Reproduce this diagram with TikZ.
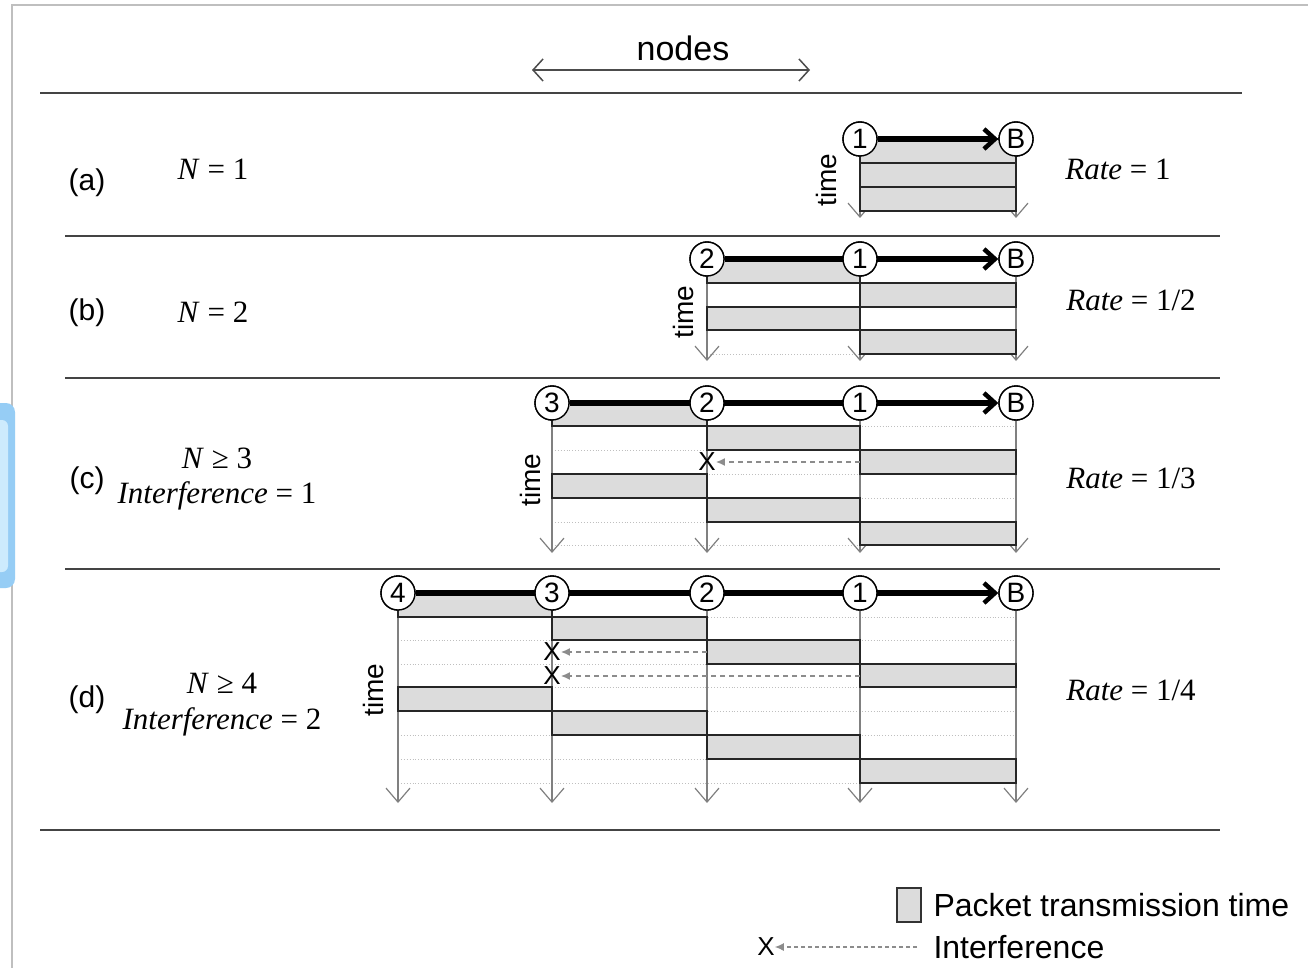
\documentclass[tikz,border=0pt]{standalone}
\usepackage{fontspec}
\setmainfont{Liberation Sans}
\newfontfamily\tms{Liberation Serif}
\usetikzlibrary{arrows.meta}
\definecolor{pktgray}{HTML}{DCDCDC}
\definecolor{sepgray}{HTML}{444444}
\definecolor{tlgray}{HTML}{808080}
\definecolor{tabblue}{RGB}{150,205,245}
\definecolor{tabinner}{RGB}{205,235,253}
\tikzset{
  fs/.style={font=\fontsize{#1}{#1}\selectfont},
  circ/.style={draw=black, line width=1.4pt, fill=white, circle, minimum size=34pt, inner sep=0pt, fs=28},
  pkt/.style={draw=black!85, line width=1.5pt, fill=pktgray},
  tl/.style={draw=tlgray, line width=1.2pt, -{Straight Barb[length=14pt,width=24pt,line width=1.2pt]}},
  big/.style={draw=black, line width=5.5pt, -{Straight Barb[length=11pt,width=20pt,line width=4.5pt]}},
  sep/.style={draw=sepgray, line width=2pt},
  dotl/.style={draw=black!25, line width=0.9pt, dotted},
  intf/.style={draw=black!45, line width=1.5pt, dash pattern=on 5pt off 4pt, -{Latex[length=9pt,width=8pt]}},
  xmark/.style={fs=26, inner sep=0pt},
  lbl/.style={fs=30},
  mth/.style={font=\tms\fontsize{31}{36}\selectfont},
  timelbl/.style={fs=28, rotate=90},
}
\begin{document}
\begin{tikzpicture}[x=1pt,y=-1pt]
\useasboundingbox (0,0) rectangle (1308,968);
\fill[white] (0,0) rectangle (1308,968);
% frame
\draw[black!25, line width=1.5pt] (12,968) -- (12,5) -- (1308,5);
% blue side tab
\fill[rounded corners=9pt, fill=tabblue] (-20,403) rectangle (15,588);
\fill[rounded corners=6pt, fill=tabinner] (-20,420) rectangle (8,572);

% header
\node[fs=34] (nodes) at (683,48) {nodes};
\coordinate (nl) at (532,70);
\coordinate (nr) at (810,70);
\draw[draw=black!70, line width=1.5pt, {Straight Barb[length=10pt,width=22pt,line width=1.5pt]}-{Straight Barb[length=10pt,width=22pt,line width=1.5pt]}] (nl) -- (nr);

% separators
\coordinate (s0l) at (40,93);  \coordinate (s0r) at (1242,93);
\coordinate (s1l) at (65,236); \coordinate (s1r) at (1220,236);
\coordinate (s2l) at (65,378); \coordinate (s2r) at (1220,378);
\coordinate (s3l) at (65,569); \coordinate (s3r) at (1220,569);
\coordinate (s4l) at (40,830); \coordinate (s4r) at (1220,830);
\draw[sep] (s0l) -- (s0r);
\draw[sep] (s1l) -- (s1r);
\draw[sep] (s2l) -- (s2r);
\draw[sep] (s3l) -- (s3r);
\draw[sep] (s4l) -- (s4r);

% ---------------- row (a)
\node[lbl] (la) at (87,183) {(a)};
\node[mth] (na) at (213,169) {\textit{N} = 1};
\node[mth] (ra) at (1118,169) {\textit{Rate} = 1};
\node[timelbl] (ta) at (826,180) {time};
\node[circ] (a1) at (860,139) {1};
\node[circ] (aB) at (1016,139) {B};
\draw[tl] (a1.south) -- (860,218);
\draw[tl] (aB.south) -- (1016,218);
\draw[pkt] (860,139) rectangle (1016,163);
\draw[pkt] (860,163) rectangle (1016,187);
\draw[pkt] (860,187) rectangle (1016,211);
\draw[big] (a1.east) -- (aB.west);
\node[circ] at (a1) {1};
\node[circ] at (aB) {B};

% ---------------- row (b)
\node[lbl] (lb) at (87,313) {(b)};
\node[mth] (nb) at (213,312) {\textit{N} = 2};
\node[mth] (rb) at (1131,300) {\textit{Rate} = 1/2};
\node[timelbl] (tb) at (683,312) {time};
\node[circ] (b2) at (707,259) {2};
\node[circ] (b1) at (860,259) {1};
\node[circ] (bB) at (1016,259) {B};
\draw[dotl] (707,354) -- (1016,354);
\draw[tl] (b2.south) -- (707,361);
\draw[tl] (b1.south) -- (860,361);
\draw[tl] (bB.south) -- (1016,361);
\draw[pkt] (707,259) rectangle (860,283);
\draw[pkt] (860,283) rectangle (1016,307);
\draw[pkt] (707,307) rectangle (860,330);
\draw[pkt] (860,330) rectangle (1016,354);
\draw[big] (b2.east) -- (bB.west);
\node[circ] at (b2) {2};
\node[circ] at (b1) {1};
\node[circ] at (bB) {B};

% ---------------- row (c)
\node[lbl] (lc) at (87,481) {(c)};
\node[mth] (nc) at (217,458) {\textit{N} ≥ 3};
\node[mth] (ic) at (217,496) {\textit{Interference} = 1};
\node[mth] (rc) at (1131,478) {\textit{Rate} = 1/3};
\node[timelbl] (tc) at (530,480) {time};
\node[circ] (c3) at (552,403) {3};
\node[circ] (c2) at (707,403) {2};
\node[circ] (c1) at (860,403) {1};
\node[circ] (cB) at (1016,403) {B};
\foreach \y in {426,450,474,498,522,545} \draw[dotl] (552,\y) -- (1016,\y);
\draw[tl] (c3.south) -- (552,553);
\draw[tl] (c2.south) -- (707,553);
\draw[tl] (c1.south) -- (860,553);
\draw[tl] (cB.south) -- (1016,553);
\draw[pkt] (552,403) rectangle (707,426);
\draw[pkt] (707,426) rectangle (860,450);
\draw[pkt] (860,450) rectangle (1016,474);
\draw[pkt] (552,474) rectangle (707,498);
\draw[pkt] (707,498) rectangle (860,522);
\draw[pkt] (860,522) rectangle (1016,545);
\node[xmark] (cx) at (707,462) {X};
\coordinate (cxs) at (860,462);
\draw[intf] (cxs) -- (cx.east);
\draw[big] (c3.east) -- (cB.west);
\node[circ] at (c3) {3};
\node[circ] at (c2) {2};
\node[circ] at (c1) {1};
\node[circ] at (cB) {B};

% ---------------- row (d)
\node[lbl] (ld) at (87,700) {(d)};
\node[mth] (nd) at (222,683) {\textit{N} ≥ 4};
\node[mth] (id) at (222,722) {\textit{Interference} = 2};
\node[mth] (rd) at (1131,690) {\textit{Rate} = 1/4};
\node[timelbl] (td) at (373,690) {time};
\node[circ] (d4) at (398,593) {4};
\node[circ] (d3) at (552,593) {3};
\node[circ] (d2) at (707,593) {2};
\node[circ] (d1) at (860,593) {1};
\node[circ] (dB) at (1016,593) {B};
\foreach \y in {617,640,664,687,711,735,759,783} \draw[dotl] (398,\y) -- (1016,\y);
\draw[tl] (d4.south) -- (398,803);
\draw[tl] (d3.south) -- (552,803);
\draw[tl] (d2.south) -- (707,803);
\draw[tl] (d1.south) -- (860,803);
\draw[tl] (dB.south) -- (1016,803);
\draw[pkt] (398,593) rectangle (552,617);
\draw[pkt] (552,617) rectangle (707,640);
\draw[pkt] (707,640) rectangle (860,664);
\draw[pkt] (860,664) rectangle (1016,687);
\draw[pkt] (398,687) rectangle (552,711);
\draw[pkt] (552,711) rectangle (707,735);
\draw[pkt] (707,735) rectangle (860,759);
\draw[pkt] (860,759) rectangle (1016,783);
\node[xmark] (dx1) at (552,652) {X};
\node[xmark] (dx2) at (552,676) {X};
\coordinate (dxs1) at (707,652);
\coordinate (dxs2) at (860,676);
\draw[intf] (dxs1) -- (dx1.east);
\draw[intf] (dxs2) -- (dx2.east);
\draw[big] (d4.east) -- (dB.west);
\node[circ] at (d4) {4};
\node[circ] at (d3) {3};
\node[circ] at (d2) {2};
\node[circ] at (d1) {1};
\node[circ] at (dB) {B};

% ---------------- legend
\node[draw=black!80, line width=1.5pt, fill=pktgray, minimum width=24pt, minimum height=34pt, inner sep=0pt] (lgbox) at (909,905) {};
\node[fs=32, anchor=west] (lgp) at (930,905) {Packet transmission time};
\node[xmark] (lgx) at (766,947) {X};
\coordinate (lgs) at (917,947);
\draw[intf, line width=1.2pt, dash pattern=on 4pt off 3pt] (lgs) -- (lgx.east);
\node[fs=32, anchor=west] (lgi) at (930,947) {Interference};
\end{tikzpicture}
\end{document}
